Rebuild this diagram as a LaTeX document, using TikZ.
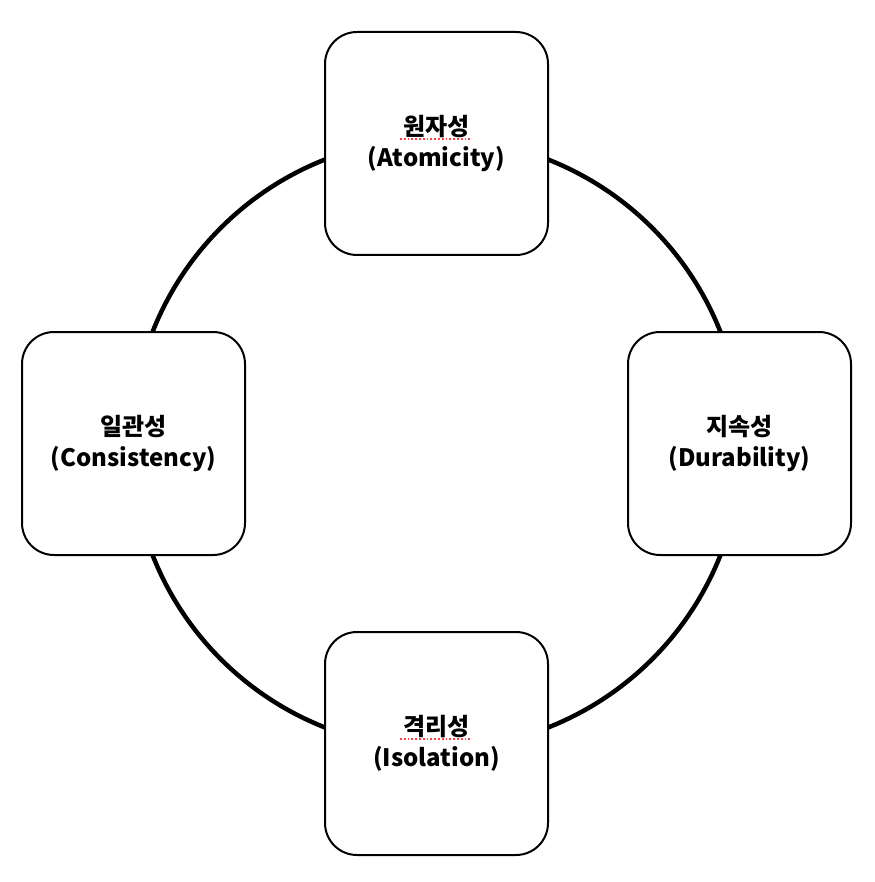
\documentclass[tikz,border=0pt]{standalone}
\usepackage{fontspec}
\setmainfont{Noto Sans CJK KR}
\newfontfamily\kfont{Noto Sans CJK KR}
\begin{document}
\begin{tikzpicture}[x=1pt,y=-1pt,
  box/.style={draw=black, line width=2pt, fill=white, rounded corners=32pt,
    minimum width=223pt, minimum height=223pt, align=center, inner sep=0pt,
    font=\kfont\bfseries\fontsize{24}{31}\selectfont},
  ring/.style={draw=black, line width=4.5pt, circle, minimum size=610pt, inner sep=0pt},
  spell/.style={draw=red!75!white, line width=1.8pt, dotted}]
\useasboundingbox (0,0) rectangle (874,882);
\node[ring] (R) at (436.5,443.5) {};
\node[box] (A) at (436.5,143.5) {원자성\\(Atomicity)};
\node[box] (C) at (133.5,443.5) {일관성\\(Consistency)};
\node[box] (D) at (739.5,443.5) {지속성\\(Durability)};
\node[box] (I) at (436.5,743.5) {격리성\\(Isolation)};
\coordinate (a1) at (400,139); \coordinate (a2) at (472,139);
\coordinate (i1) at (400,739); \coordinate (i2) at (472,739);
\draw[spell] (a1) -- (a2);
\draw[spell] (i1) -- (i2);
\end{tikzpicture}
\end{document}
